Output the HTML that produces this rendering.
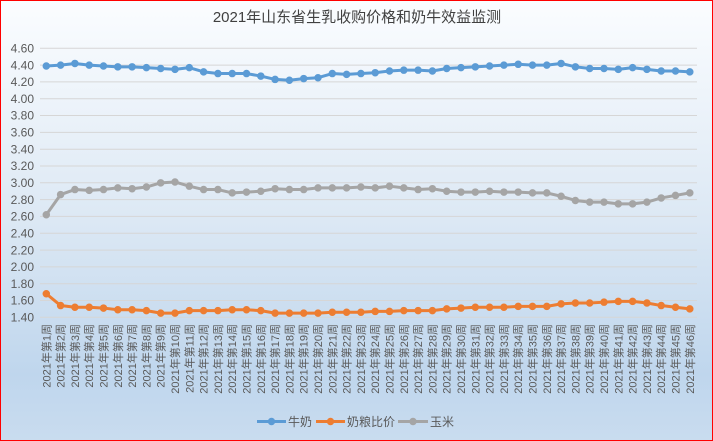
<!DOCTYPE html>
<html><head><meta charset="utf-8"><style>
html,body{margin:0;padding:0;}
body{width:713px;height:441px;overflow:hidden;}
svg{display:block;font-family:"Liberation Sans","Noto Sans CJK SC",sans-serif;}
</style></head><body>
<svg width="713" height="441" viewBox="0 0 713 441" xmlns="http://www.w3.org/2000/svg">
<defs><linearGradient id="bg" x1="0" y1="0" x2="0" y2="1">
<stop offset="0" stop-color="#fbfdff"/><stop offset="0.5" stop-color="#dce8f4"/><stop offset="0.85" stop-color="#bfd6ed"/><stop offset="1" stop-color="#c9dcef"/></linearGradient></defs>
<rect x="0.5" y="0.5" width="712" height="440" fill="url(#bg)" stroke="#ff0000" stroke-width="1"/>
<text x="357" y="22" font-size="15" fill="#404040" text-anchor="middle">2021年山东省生乳收购价格和奶牛效益监测</text>
<g stroke="#d6d6d6" stroke-width="1">
<line x1="40" x2="697" y1="48.3" y2="48.3"/><line x1="40" x2="697" y1="65.1" y2="65.1"/><line x1="40" x2="697" y1="81.9" y2="81.9"/><line x1="40" x2="697" y1="98.7" y2="98.7"/><line x1="40" x2="697" y1="115.5" y2="115.5"/><line x1="40" x2="697" y1="132.4" y2="132.4"/><line x1="40" x2="697" y1="149.2" y2="149.2"/><line x1="40" x2="697" y1="166.0" y2="166.0"/><line x1="40" x2="697" y1="182.8" y2="182.8"/><line x1="40" x2="697" y1="199.6" y2="199.6"/><line x1="40" x2="697" y1="216.4" y2="216.4"/><line x1="40" x2="697" y1="233.2" y2="233.2"/><line x1="40" x2="697" y1="250.1" y2="250.1"/><line x1="40" x2="697" y1="266.9" y2="266.9"/><line x1="40" x2="697" y1="283.7" y2="283.7"/><line x1="40" x2="697" y1="300.5" y2="300.5"/><line x1="40" x2="697" y1="317.3" y2="317.3"/>
</g>
<g font-size="12" fill="#595959" text-anchor="end">
<text x="34" y="52.5">4.60</text><text x="34" y="69.3">4.40</text><text x="34" y="86.1">4.20</text><text x="34" y="102.9">4.00</text><text x="34" y="119.7">3.80</text><text x="34" y="136.6">3.60</text><text x="34" y="153.4">3.40</text><text x="34" y="170.2">3.20</text><text x="34" y="187.0">3.00</text><text x="34" y="203.8">2.80</text><text x="34" y="220.6">2.60</text><text x="34" y="237.4">2.40</text><text x="34" y="254.3">2.20</text><text x="34" y="271.1">2.00</text><text x="34" y="287.9">1.80</text><text x="34" y="304.7">1.60</text><text x="34" y="321.5">1.40</text>
</g>
<g transform="translate(46.3,435) scale(14.3,-84.06)" fill="none" stroke-linejoin="round" stroke-linecap="round">
<polyline vector-effect="non-scaling-stroke" stroke="#5b9bd5" stroke-width="3" points="0,4.39 1,4.40 2,4.42 3,4.40 4,4.39 5,4.38 6,4.38 7,4.37 8,4.36 9,4.35 10,4.37 11,4.32 12,4.30 13,4.30 14,4.30 15,4.27 16,4.23 17,4.22 18,4.24 19,4.25 20,4.30 21,4.29 22,4.30 23,4.31 24,4.33 25,4.34 26,4.34 27,4.33 28,4.36 29,4.37 30,4.38 31,4.39 32,4.40 33,4.41 34,4.40 35,4.40 36,4.42 37,4.38 38,4.36 39,4.36 40,4.35 41,4.37 42,4.35 43,4.33 44,4.33 45,4.32"/>
<path vector-effect="non-scaling-stroke" stroke="#5b9bd5" stroke-width="7.5" d="M0 4.39h0M1 4.40h0M2 4.42h0M3 4.40h0M4 4.39h0M5 4.38h0M6 4.38h0M7 4.37h0M8 4.36h0M9 4.35h0M10 4.37h0M11 4.32h0M12 4.30h0M13 4.30h0M14 4.30h0M15 4.27h0M16 4.23h0M17 4.22h0M18 4.24h0M19 4.25h0M20 4.30h0M21 4.29h0M22 4.30h0M23 4.31h0M24 4.33h0M25 4.34h0M26 4.34h0M27 4.33h0M28 4.36h0M29 4.37h0M30 4.38h0M31 4.39h0M32 4.40h0M33 4.41h0M34 4.40h0M35 4.40h0M36 4.42h0M37 4.38h0M38 4.36h0M39 4.36h0M40 4.35h0M41 4.37h0M42 4.35h0M43 4.33h0M44 4.33h0M45 4.32h0"/>
<polyline vector-effect="non-scaling-stroke" stroke="#ed7d31" stroke-width="3" points="0,1.68 1,1.54 2,1.52 3,1.52 4,1.51 5,1.49 6,1.49 7,1.48 8,1.45 9,1.45 10,1.48 11,1.48 12,1.48 13,1.49 14,1.49 15,1.48 16,1.45 17,1.45 18,1.45 19,1.45 20,1.46 21,1.46 22,1.46 23,1.47 24,1.47 25,1.48 26,1.48 27,1.48 28,1.50 29,1.51 30,1.52 31,1.52 32,1.52 33,1.53 34,1.53 35,1.53 36,1.56 37,1.57 38,1.57 39,1.58 40,1.59 41,1.59 42,1.57 43,1.54 44,1.52 45,1.50"/>
<path vector-effect="non-scaling-stroke" stroke="#ed7d31" stroke-width="7.5" d="M0 1.68h0M1 1.54h0M2 1.52h0M3 1.52h0M4 1.51h0M5 1.49h0M6 1.49h0M7 1.48h0M8 1.45h0M9 1.45h0M10 1.48h0M11 1.48h0M12 1.48h0M13 1.49h0M14 1.49h0M15 1.48h0M16 1.45h0M17 1.45h0M18 1.45h0M19 1.45h0M20 1.46h0M21 1.46h0M22 1.46h0M23 1.47h0M24 1.47h0M25 1.48h0M26 1.48h0M27 1.48h0M28 1.50h0M29 1.51h0M30 1.52h0M31 1.52h0M32 1.52h0M33 1.53h0M34 1.53h0M35 1.53h0M36 1.56h0M37 1.57h0M38 1.57h0M39 1.58h0M40 1.59h0M41 1.59h0M42 1.57h0M43 1.54h0M44 1.52h0M45 1.50h0"/>
<polyline vector-effect="non-scaling-stroke" stroke="#a5a5a5" stroke-width="3" points="0,2.62 1,2.86 2,2.92 3,2.91 4,2.92 5,2.94 6,2.93 7,2.95 8,3.00 9,3.01 10,2.96 11,2.92 12,2.92 13,2.88 14,2.89 15,2.90 16,2.93 17,2.92 18,2.92 19,2.94 20,2.94 21,2.94 22,2.95 23,2.94 24,2.96 25,2.94 26,2.92 27,2.93 28,2.90 29,2.89 30,2.89 31,2.90 32,2.89 33,2.89 34,2.88 35,2.88 36,2.84 37,2.79 38,2.77 39,2.77 40,2.75 41,2.75 42,2.77 43,2.82 44,2.85 45,2.88"/>
<path vector-effect="non-scaling-stroke" stroke="#a5a5a5" stroke-width="7.5" d="M0 2.62h0M1 2.86h0M2 2.92h0M3 2.91h0M4 2.92h0M5 2.94h0M6 2.93h0M7 2.95h0M8 3.00h0M9 3.01h0M10 2.96h0M11 2.92h0M12 2.92h0M13 2.88h0M14 2.89h0M15 2.90h0M16 2.93h0M17 2.92h0M18 2.92h0M19 2.94h0M20 2.94h0M21 2.94h0M22 2.95h0M23 2.94h0M24 2.96h0M25 2.94h0M26 2.92h0M27 2.93h0M28 2.90h0M29 2.89h0M30 2.89h0M31 2.90h0M32 2.89h0M33 2.89h0M34 2.88h0M35 2.88h0M36 2.84h0M37 2.79h0M38 2.77h0M39 2.77h0M40 2.75h0M41 2.75h0M42 2.77h0M43 2.82h0M44 2.85h0M45 2.88h0"/>
</g>
<g font-size="11" fill="#595959" text-anchor="end">
<text transform="translate(50.3,324) rotate(-90)">2021年第1周</text>
<text transform="translate(64.6,324) rotate(-90)">2021年第2周</text>
<text transform="translate(78.9,324) rotate(-90)">2021年第3周</text>
<text transform="translate(93.2,324) rotate(-90)">2021年第4周</text>
<text transform="translate(107.5,324) rotate(-90)">2021年第5周</text>
<text transform="translate(121.8,324) rotate(-90)">2021年第6周</text>
<text transform="translate(136.1,324) rotate(-90)">2021年第7周</text>
<text transform="translate(150.4,324) rotate(-90)">2021年第8周</text>
<text transform="translate(164.7,324) rotate(-90)">2021年第9周</text>
<text transform="translate(179.0,324) rotate(-90)">2021年第10周</text>
<text transform="translate(193.3,324) rotate(-90)">2021年第11周</text>
<text transform="translate(207.6,324) rotate(-90)">2021年第12周</text>
<text transform="translate(221.9,324) rotate(-90)">2021年第13周</text>
<text transform="translate(236.2,324) rotate(-90)">2021年第14周</text>
<text transform="translate(250.5,324) rotate(-90)">2021年第15周</text>
<text transform="translate(264.8,324) rotate(-90)">2021年第16周</text>
<text transform="translate(279.1,324) rotate(-90)">2021年第17周</text>
<text transform="translate(293.4,324) rotate(-90)">2021年第18周</text>
<text transform="translate(307.7,324) rotate(-90)">2021年第19周</text>
<text transform="translate(322.0,324) rotate(-90)">2021年第20周</text>
<text transform="translate(336.3,324) rotate(-90)">2021年第21周</text>
<text transform="translate(350.6,324) rotate(-90)">2021年第22周</text>
<text transform="translate(364.9,324) rotate(-90)">2021年第23周</text>
<text transform="translate(379.2,324) rotate(-90)">2021年第24周</text>
<text transform="translate(393.5,324) rotate(-90)">2021年第25周</text>
<text transform="translate(407.8,324) rotate(-90)">2021年第26周</text>
<text transform="translate(422.1,324) rotate(-90)">2021年第27周</text>
<text transform="translate(436.4,324) rotate(-90)">2021年第28周</text>
<text transform="translate(450.7,324) rotate(-90)">2021年第29周</text>
<text transform="translate(465.0,324) rotate(-90)">2021年第30周</text>
<text transform="translate(479.3,324) rotate(-90)">2021年第31周</text>
<text transform="translate(493.6,324) rotate(-90)">2021年第32周</text>
<text transform="translate(507.9,324) rotate(-90)">2021年第33周</text>
<text transform="translate(522.2,324) rotate(-90)">2021年第34周</text>
<text transform="translate(536.5,324) rotate(-90)">2021年第35周</text>
<text transform="translate(550.8,324) rotate(-90)">2021年第36周</text>
<text transform="translate(565.1,324) rotate(-90)">2021年第37周</text>
<text transform="translate(579.4,324) rotate(-90)">2021年第38周</text>
<text transform="translate(593.7,324) rotate(-90)">2021年第39周</text>
<text transform="translate(608.0,324) rotate(-90)">2021年第40周</text>
<text transform="translate(622.3,324) rotate(-90)">2021年第41周</text>
<text transform="translate(636.6,324) rotate(-90)">2021年第42周</text>
<text transform="translate(650.9,324) rotate(-90)">2021年第43周</text>
<text transform="translate(665.2,324) rotate(-90)">2021年第44周</text>
<text transform="translate(679.5,324) rotate(-90)">2021年第45周</text>
<text transform="translate(693.8,324) rotate(-90)">2021年第46周</text>
</g>
<g font-size="12" fill="#595959">
<line x1="257" x2="286" y1="421.5" y2="421.5" stroke="#5b9bd5" stroke-width="3"/><circle cx="271.5" cy="421.5" r="3.7" fill="#5b9bd5"/>
<text x="288" y="426">牛奶</text>
<line x1="316" x2="345" y1="421.5" y2="421.5" stroke="#ed7d31" stroke-width="3"/><circle cx="330.5" cy="421.5" r="3.7" fill="#ed7d31"/>
<text x="347" y="426">奶粮比价</text>
<line x1="398" x2="428" y1="421.5" y2="421.5" stroke="#a5a5a5" stroke-width="3"/><circle cx="413" cy="421.5" r="3.7" fill="#a5a5a5"/>
<text x="430" y="426">玉米</text>
</g>
</svg>
</body></html>
